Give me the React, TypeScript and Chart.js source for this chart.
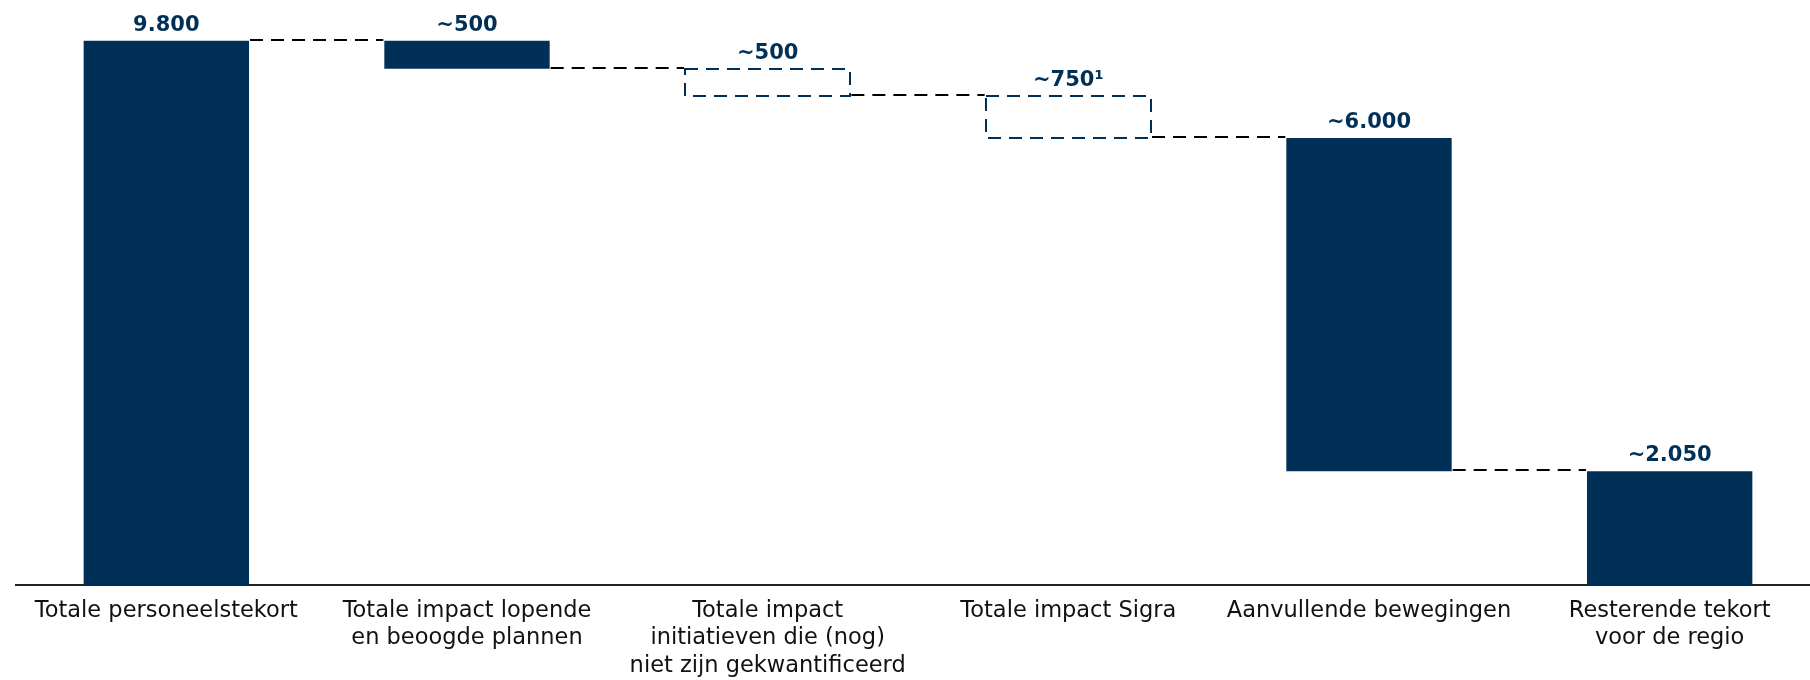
import React, { useEffect, useRef } from 'react';
import { Chart, registerables } from 'chart.js';

Chart.register(...registerables);

const categories: string[][] = [
  ['Totale personeelstekort'],
  ['Totale impact lopende', 'en beoogde plannen'],
  ['Totale impact', 'initiatieven die (nog)', 'niet zijn gekwantificeerd'],
  ['Totale impact Sigra'],
  ['Aanvullende bewegingen'],
  ['Resterende tekort', 'voor de regio'],
];
const barLow = [0, 9300, 8800, 8050, 2050, 0];
const barHigh = [9800, 9800, 9300, 8800, 8050, 2050];
const valueLabels = ['9.800', '~500', '~500', '~750¹', '~6.000', '~2.050'];
const dashedBars = [false, false, true, true, false, false];

const NAVY = '#003058';
const FONT = '"DejaVu Sans", Verdana, sans-serif';

const waterfallPlugin = {
  id: 'waterfallDecor',
  afterDatasetsDraw(chart: any) {
    const ctx = chart.ctx as CanvasRenderingContext2D;
    const meta = chart.getDatasetMeta(0);
    const yScale = chart.scales.y;
    ctx.save();
    meta.data.forEach((el: any, i: number) => {
      const { x, width, y, base } = el.getProps(['x', 'width', 'y', 'base'], true);
      const left = Math.round(x - width / 2);
      const right = Math.round(x + width / 2);
      const top = Math.round(Math.min(y, base));
      const bottom = Math.round(Math.max(y, base));
      if (dashedBars[i]) {
        ctx.setLineDash([13, 8]);
        ctx.lineWidth = 2;
        ctx.strokeStyle = NAVY;
        ctx.strokeRect(left, top, right - left, bottom - top);
      }
      ctx.setLineDash([]);
      ctx.fillStyle = NAVY;
      ctx.font = `bold 21px ${FONT}`;
      ctx.textAlign = 'center';
      ctx.textBaseline = 'alphabetic';
      ctx.fillText(valueLabels[i], x, top - 10.5);
    });
    for (let i = 0; i < meta.data.length - 1; i++) {
      const a = meta.data[i];
      const b = meta.data[i + 1];
      const py = Math.round(yScale.getPixelForValue(barHigh[i + 1])) - 1;
      ctx.beginPath();
      ctx.setLineDash([13, 8]);
      ctx.strokeStyle = '#000';
      ctx.lineWidth = 2;
      ctx.moveTo(a.x + a.width / 2 + 1, py);
      ctx.lineTo(b.x - b.width / 2 - 1, py);
      ctx.stroke();
    }
    ctx.restore();
  },
};

export default function App() {
  const canvasRef = useRef<HTMLCanvasElement | null>(null);

  useEffect(() => {
    if (!canvasRef.current) return;
    const chart = new Chart(canvasRef.current, {
      type: 'bar',
      data: {
        labels: categories,
        datasets: [
          {
            data: barLow.map((lo, i) => [lo, barHigh[i]]) as any,
            backgroundColor: dashedBars.map((d) => (d ? 'rgba(0,0,0,0)' : NAVY)),
            borderWidth: 0,
            barPercentage: 0.55,
            categoryPercentage: 1,
          },
        ],
      },
      options: {
        animation: false,
        responsive: false,
        layout: { padding: { left: 16, right: 0, top: 2, bottom: 0 } },
        plugins: {
          legend: { display: false },
          tooltip: { enabled: false },
        },
        scales: {
          x: {
            grid: { display: false, drawTicks: false },
            border: { display: true, color: '#222', width: 2 },
            ticks: {
              autoSkip: false,
              maxRotation: 0,
              minRotation: 0,
              padding: 12,
              color: '#111',
              font: { family: FONT, size: 22.5, lineHeight: 1.23 },
            },
            afterFit: (scale: any) => {
              scale.height = 95;
            },
          },
          y: {
            display: false,
            min: 0,
            max: 10500,
          },
        },
      },
      plugins: [waterfallPlugin],
    });
    return () => chart.destroy();
  }, []);

  return (
    <div style={{ position: 'fixed', left: 0, top: 0, width: 1810, height: 680, background: '#fff', overflow: 'hidden' }}>
      <canvas ref={canvasRef} width={1820} height={680} style={{ display: 'block' }} />
    </div>
  );
}
